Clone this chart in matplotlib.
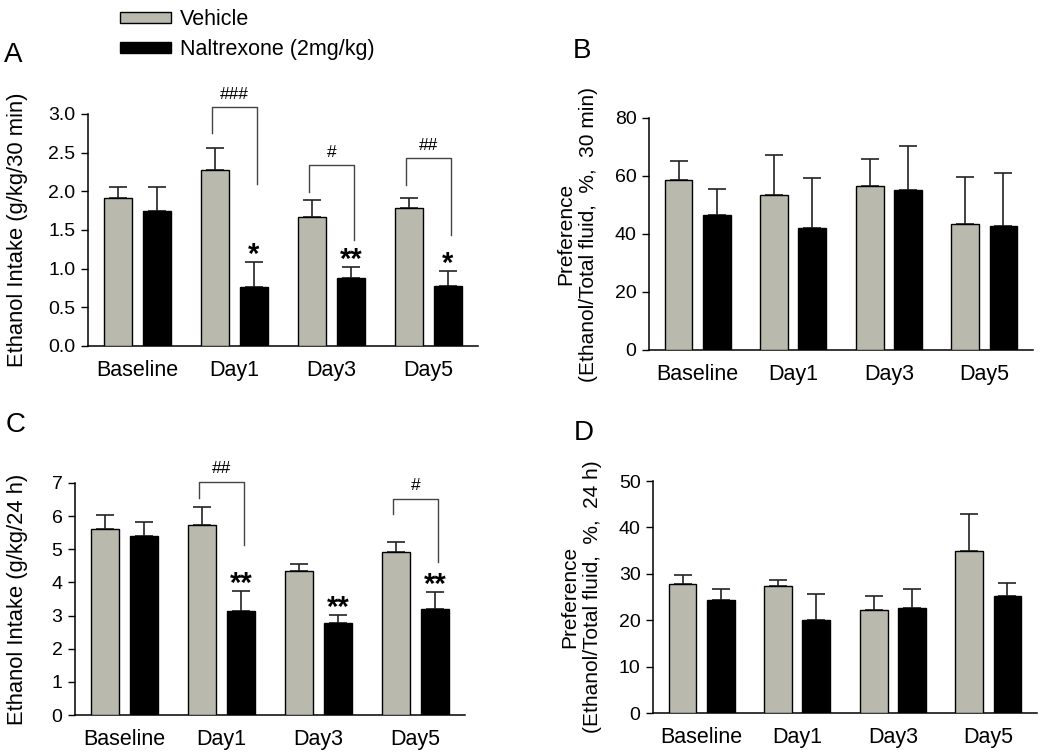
import numpy as np
import matplotlib.pyplot as plt

plt.rcParams["font.family"] = ["Liberation Sans", "DejaVu Sans"]

days = ["Baseline", "Day1", "Day3", "Day5"]
legend_labels = ["Vehicle", "Naltrexone (2mg/kg)"]

# A: ethanol intake, 30 min
a_veh = [1.91, 2.28, 1.67, 1.78]
a_veh_sem = [0.15, 0.28, 0.22, 0.13]
a_nal = [1.75, 0.76, 0.88, 0.78]
a_nal_sem = [0.30, 0.32, 0.14, 0.19]
a_stars = ["", "*", "**", "*"]
# group, left leg bottom, right leg bottom, top, label
a_brackets = [(1, 2.75, 2.10, 3.09, "###"),
              (2, 1.99, 1.37, 2.34, "#"),
              (3, 2.08, 1.43, 2.43, "##")]

# B: preference, 30 min
b_veh = [58.7, 53.3, 56.7, 43.6]
b_veh_sem = [6.6, 13.9, 9.2, 16.2]
b_nal = [46.6, 42.1, 55.1, 42.9]
b_nal_sem = [8.9, 17.1, 15.4, 18.3]

# C: ethanol intake, 24 h
c_veh = [5.62, 5.73, 4.35, 4.91]
c_veh_sem = [0.40, 0.54, 0.22, 0.32]
c_nal = [5.39, 3.15, 2.78, 3.19]
c_nal_sem = [0.44, 0.59, 0.24, 0.51]
c_stars = ["", "**", "**", "**"]
c_brackets = [(1, 6.54, 5.12, 7.04, "##"),
              (3, 6.07, 4.61, 6.53, "#")]

# D: preference, 24 h
d_veh = [27.7, 27.4, 22.2, 34.9]
d_veh_sem = [2.0, 1.2, 3.1, 8.0]
d_nal = [24.4, 20.1, 22.7, 25.3]
d_nal_sem = [2.4, 5.6, 4.1, 2.8]

veh_color = "#b9b9ad"
nal_color = "#000000"
off = 0.2
width = 0.29

fig = plt.figure(figsize=(10.5, 7.55), dpi=100)


def panel(rect, veh, veh_sem, nal, nal_sem, ymax, step, fmt, ylabel,
          label_x, ylabel_size, stars=None, brackets=None):
    ax = fig.add_axes(rect)
    x = np.arange(len(days))
    bars = []
    for xs, vals, sem, col in [(x - off, veh, veh_sem, veh_color),
                               (x + off, nal, nal_sem, nal_color)]:
        b = ax.bar(xs, vals, width, color=col, edgecolor="black",
                   linewidth=1.0, zorder=3)
        ax.errorbar(xs, vals, yerr=[np.zeros(len(vals)), sem], fmt="none",
                    ecolor="#222222", elinewidth=1.2, capsize=6.5,
                    capthick=1.2, zorder=2)
        bars.append(b)
    ax.set_xlim(-0.51, 3.51)
    ax.set_ylim(0, ymax)
    ticks = np.arange(0, ymax + step / 2, step)
    ax.set_yticks(ticks)
    ax.set_yticklabels([fmt % t for t in ticks], fontsize=14)
    ax.set_xticks(x)
    ax.set_xticklabels(days, fontsize=15.5)
    ax.tick_params(axis="x", length=0, pad=10)
    ax.tick_params(axis="y", length=5, width=1.0, direction="out", pad=4)
    for s in ["top", "right"]:
        ax.spines[s].set_visible(False)
    for s in ["left", "bottom"]:
        ax.spines[s].set_linewidth(1.1)
    ax.set_ylabel(ylabel, fontsize=ylabel_size, linespacing=1.25)
    ax.yaxis.set_label_coords(label_x, 0.5)

    if stars:
        for i, s in enumerate(stars):
            if s:
                top = nal[i] + nal_sem[i] + 0.063 * ymax
                ax.annotate(s, (x[i] + off, top), xytext=(0, -11),
                            textcoords="offset points", ha="center",
                            va="baseline", fontsize=21, fontweight="bold")
    if brackets:
        for g, lb, rb, tp, lab in brackets:
            xl = x[g] - off - 0.03
            xr = x[g] + off + 0.03
            ax.plot([xl, xl, xr, xr], [lb, tp, tp, rb], color="#444444",
                    lw=1.0, zorder=4, clip_on=False)
            ax.annotate(lab, ((xl + xr) / 2, tp), xytext=(0, 6),
                        textcoords="offset points", ha="center",
                        va="baseline", fontsize=12.5,
                        annotation_clip=False)
    return bars


bars = panel([88 / 1050, 1 - 346 / 755, 390 / 1050, 232 / 755],
             a_veh, a_veh_sem, a_nal, a_nal_sem, 3.0, 0.5, "%.1f",
             "Ethanol Intake (g/kg/30 min)", -0.154, 15.8,
             stars=a_stars, brackets=a_brackets)
panel([649 / 1050, 1 - 350 / 755, 384 / 1050, 232 / 755],
      b_veh, b_veh_sem, b_nal, b_nal_sem, 80, 20, "%d",
      "Preference\n(Ethanol/Total fluid,  %,  30 min)", -0.133, 15)
panel([75 / 1050, 1 - 715 / 755, 390 / 1050, 232 / 755],
      c_veh, c_veh_sem, c_nal, c_nal_sem, 7, 1, "%d",
      "Ethanol Intake (g/kg/24 h)", -0.12, 15.8,
      stars=c_stars, brackets=c_brackets)
panel([653 / 1050, 1 - 713 / 755, 384 / 1050, 232 / 755],
      d_veh, d_veh_sem, d_nal, d_nal_sem, 50, 10, "%d",
      "Preference\n(Ethanol/Total fluid,  %,  24 h)", -0.133, 15)

fig.legend([bars[0], bars[1]], legend_labels, loc="upper left",
           bbox_to_anchor=(120 / 1050, 1 - 9 / 755), frameon=False,
           fontsize=15.5, handlelength=2.35, handleheight=0.42,
           handletextpad=0.45, labelspacing=0.42, borderpad=0,
           borderaxespad=0)

for lab, px, py in [("A", 4, 42), ("B", 573, 38), ("C", 6, 412), ("D", 574, 420)]:
    fig.text(px / 1050, 1 - py / 755, lab, fontsize=20, ha="left", va="top")

fig.savefig("out.png", dpi=100)
